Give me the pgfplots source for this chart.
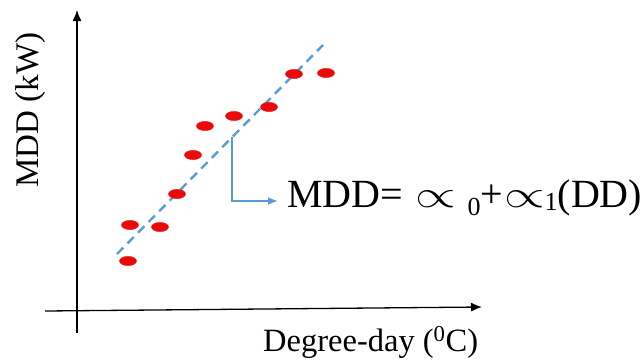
\documentclass[border=0pt]{standalone}
\usepackage{graphicx}
\usepackage{pgfplots}
\pgfplotsset{compat=1.18}
\usepackage{fontspec}
\setmainfont{Liberation Serif}
\usetikzlibrary{arrows.meta}
\definecolor{ptred}{RGB}{235,10,10}
\definecolor{fitblue}{RGB}{91,155,213}
\newcommand{\bigprop}{\scalebox{2.1}[1.55]{$\propto$}}
\begin{document}
\begin{tikzpicture}
\begin{axis}[
  scale only axis, width=644pt, height=362pt,
  xmin=0, xmax=644, ymin=0, ymax=362, y dir=reverse,
  hide axis, clip=false,
]
% frame of the picture
\path[use as bounding box] (axis cs:0,0) rectangle (axis cs:644,362);
% axes with arrow heads
\addplot[black, line width=1.3pt, -{Latex[length=11pt,width=9pt]}] coordinates {(77,333) (77,10)};
\addplot[black, line width=1.3pt, -{Latex[length=11pt,width=9pt]}] coordinates {(45,311) (482,307)};
% fitted trend
\addplot[fitblue, line width=2.4pt, dash pattern=on 9pt off 6pt] coordinates {(117,254) (323,45)};
% observations
\addplot[only marks, mark=*, mark size=4.6pt, ptred, mark options={xscale=1.85, draw=ptred, fill=ptred}] coordinates {
  (128,261) (130,225) (160,227) (177,194) (193,155)
  (205,126) (234,116) (269,107) (294,74) (326,73)
};
% callout arrow
\addplot[fitblue, line width=1.8pt, -{Latex[length=10pt,width=8pt]}] coordinates {(232,137) (232,201) (278,201)};
\node[anchor=base west, inner sep=0pt, font=\fontsize{40}{44}\selectfont] at (axis cs:287,207)
  {MDD=\hspace{0.3em}\bigprop\hspace{0.3em}\raisebox{-0.22em}{\fontsize{26}{28}\selectfont 0}+\hspace{0.02em}\bigprop\raisebox{-0.08em}{\fontsize{26}{28}\selectfont 1}(DD)};
\node[anchor=base west, inner sep=0pt, font=\fontsize{32.5}{36}\selectfont] at (axis cs:263,351)
  {Degree-day (\textsuperscript{0}C)};
\node[rotate=90, inner sep=0pt, font=\fontsize{33}{36}\selectfont] at (axis cs:31,110)
  {MDD (kW)};
\end{axis}
\end{tikzpicture}
\end{document}
